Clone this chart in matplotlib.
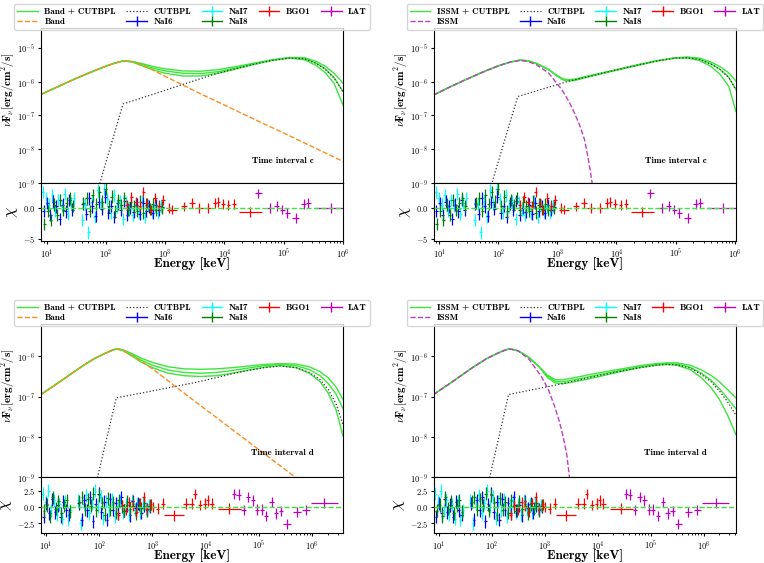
import numpy as np
import matplotlib
matplotlib.use("Agg")
import matplotlib.pyplot as plt
from matplotlib.lines import Line2D
from matplotlib.ticker import LogLocator, NullLocator, FixedLocator, FuncFormatter, NullFormatter

plt.rcParams["mathtext.fontset"] = "cm"
plt.rcParams["font.family"] = ["cmb10", "DejaVu Serif"]

# ---------------- model curves (log10 E [keV], log10 nuFnu) ----------------
# interval c, Band + CUTBPL
c_band_le = [0.9, 1.2, 1.5, 1.8, 2.0, 2.15, 2.3, 2.45, 2.6, 2.8, 3.0, 3.3, 3.6, 4.0, 4.5, 5.0, 5.5, 6.0]
c_band_lf = [-6.38, -6.14, -5.90, -5.68, -5.54, -5.45, -5.38, -5.41, -5.50, -5.66, -5.84, -6.10, -6.36, -6.69, -7.11, -7.52, -7.94, -8.36]
c_bt_le = [0.9, 1.2, 1.5, 1.8, 2.0, 2.15, 2.3, 2.45, 2.6, 2.8, 3.0, 3.3, 3.6, 3.9, 4.2, 4.5, 4.8, 5.1, 5.35, 5.55, 5.7, 5.85, 6.0]
c_bt_lo = [-6.38, -6.14, -5.90, -5.68, -5.54, -5.45, -5.38]
c_bt_hi1 = [-5.40, -5.46, -5.55, -5.62, -5.68, -5.69, -5.64, -5.55, -5.45, -5.35, -5.28, -5.29, -5.40, -5.54, -5.75, -6.04]
c_bt_hi2 = [-5.41, -5.49, -5.60, -5.68, -5.75, -5.76, -5.70, -5.59, -5.47, -5.36, -5.29, -5.31, -5.45, -5.62, -5.88, -6.29]
c_bt_hi3 = [-5.42, -5.52, -5.65, -5.75, -5.83, -5.83, -5.75, -5.62, -5.49, -5.37, -5.30, -5.35, -5.52, -5.73, -6.05, -6.69]
c_cut1_le = [1.85, 2.29, 2.8, 3.3, 3.88, 4.2, 4.5, 4.8, 5.1, 5.35, 5.55, 5.7, 5.85, 6.0]
c_cut1_lf = [-9.3, -6.66, -6.37, -6.08, -5.75, -5.61, -5.48, -5.37, -5.30, -5.32, -5.46, -5.63, -5.89, -6.30]

# interval c, ISSM + CUTBPL
c_issm_le = [0.9, 1.2, 1.5, 1.8, 2.0, 2.2, 2.37, 2.5, 2.65, 2.85, 3.07, 3.2, 3.29, 3.38, 3.46, 3.52, 3.58, 3.62]
c_issm_lf = [-6.40, -6.14, -5.90, -5.67, -5.53, -5.42, -5.37, -5.40, -5.50, -5.74, -6.22, -6.60, -6.93, -7.30, -7.72, -8.25, -8.90, -9.40]
c_it_le = [0.9, 1.2, 1.5, 1.8, 2.0, 2.2, 2.37, 2.5, 2.65, 2.85, 3.0, 3.1, 3.2, 3.3, 3.5, 3.8, 4.1, 4.4, 4.7, 5.0, 5.2, 5.4, 5.6, 5.75, 5.9, 6.02]
c_it_lo = [-6.40, -6.14, -5.90, -5.67, -5.53, -5.42, -5.36, -5.38, -5.46, -5.64]
c_it_hi1 = [-5.82, -5.92, -5.94, -5.92, -5.84, -5.72, -5.60, -5.48, -5.37, -5.29, -5.27, -5.30, -5.42, -5.55, -5.74, -5.98]
c_it_hi2 = [-5.83, -5.93, -5.96, -5.94, -5.85, -5.73, -5.61, -5.49, -5.38, -5.29, -5.28, -5.33, -5.47, -5.63, -5.87, -6.23]
c_it_hi3 = [-5.84, -5.95, -5.98, -5.96, -5.87, -5.74, -5.62, -5.50, -5.38, -5.30, -5.30, -5.37, -5.55, -5.78, -6.14, -6.88]
c_cut2_le = [1.85, 2.33, 2.8, 3.2, 3.5, 3.8, 4.1, 4.4, 4.7, 5.0, 5.2, 5.4, 5.6, 5.75, 5.9, 6.02]
c_cut2_lf = [-9.25, -6.44, -6.19, -5.98, -5.86, -5.73, -5.61, -5.49, -5.38, -5.30, -5.29, -5.34, -5.48, -5.64, -5.88, -6.24]

# interval d, Band + CUTBPL
d_band_le = [0.9, 1.15, 1.4, 1.65, 1.9, 2.1, 2.25, 2.34, 2.45, 2.6, 2.8, 3.0, 3.2, 3.42, 3.8, 4.2, 4.6, 5.0, 5.4, 5.8]
d_band_lf = [-6.95, -6.73, -6.50, -6.27, -6.06, -5.93, -5.85, -5.82, -5.86, -5.96, -6.13, -6.31, -6.51, -6.74, -7.12, -7.52, -7.92, -8.32, -8.72, -9.12]
d_bt_le = [0.9, 1.15, 1.4, 1.65, 1.9, 2.1, 2.25, 2.34, 2.45, 2.6, 2.8, 3.0, 3.3, 3.6, 3.9, 4.2, 4.5, 4.8, 5.1, 5.4, 5.7, 5.95, 6.15, 6.3, 6.45, 6.58]
d_bt_lo = [-6.95, -6.73, -6.50, -6.27, -6.06, -5.93, -5.84, -5.81]
d_bt_hi1 = [-5.84, -5.92, -6.05, -6.15, -6.26, -6.31, -6.32, -6.31, -6.28, -6.24, -6.20, -6.18, -6.19, -6.26, -6.38, -6.53, -6.76, -7.07]
d_bt_hi2 = [-5.85, -5.95, -6.10, -6.22, -6.34, -6.40, -6.42, -6.40, -6.35, -6.29, -6.23, -6.20, -6.23, -6.33, -6.48, -6.67, -6.94, -7.30]
d_bt_hi3 = [-5.86, -5.98, -6.15, -6.28, -6.42, -6.48, -6.50, -6.48, -6.42, -6.34, -6.27, -6.23, -6.28, -6.42, -6.63, -6.91, -7.33, -7.98]
d_cut1_le = [1.88, 2.32, 2.8, 3.3, 3.8, 4.23, 4.5, 4.8, 5.1, 5.4, 5.7, 5.95, 6.15, 6.3, 6.45, 6.58]
d_cut1_lf = [-9.5, -7.03, -6.91, -6.78, -6.65, -6.52, -6.43, -6.35, -6.28, -6.24, -6.28, -6.40, -6.58, -6.82, -7.18, -7.70]

# interval d, ISSM + CUTBPL
d_issm_le = [0.9, 1.15, 1.4, 1.65, 1.9, 2.1, 2.25, 2.35, 2.5, 2.7, 2.94, 3.07, 3.19, 3.28, 3.35, 3.42, 3.47, 3.52]
d_issm_lf = [-6.95, -6.73, -6.50, -6.27, -6.06, -5.93, -5.85, -5.82, -5.86, -6.06, -6.50, -6.82, -7.24, -7.62, -7.99, -8.45, -9.0, -9.5]
d_it_le = [0.9, 1.15, 1.4, 1.65, 1.9, 2.1, 2.25, 2.35, 2.5, 2.7, 2.9, 3.05, 3.2, 3.35, 3.6, 3.9, 4.2, 4.5, 4.8, 5.1, 5.3, 5.5, 5.75, 5.95, 6.15, 6.3, 6.45, 6.61]
d_it_lo = [-6.95, -6.73, -6.50, -6.27, -6.06, -5.93, -5.84, -5.81, -5.86, -6.02, -6.26]
d_it_hi1 = [-6.46, -6.58, -6.58, -6.52, -6.44, -6.37, -6.30, -6.23, -6.18, -6.16, -6.16, -6.22, -6.33, -6.48, -6.63, -6.82, -7.03]
d_it_hi2 = [-6.49, -6.62, -6.63, -6.57, -6.49, -6.41, -6.33, -6.26, -6.20, -6.18, -6.19, -6.27, -6.41, -6.60, -6.80, -7.04, -7.30]
d_it_hi3 = [-6.52, -6.66, -6.68, -6.62, -6.54, -6.45, -6.36, -6.28, -6.22, -6.20, -6.22, -6.33, -6.52, -6.79, -7.07, -7.45, -7.94]
d_cut2_le = [1.88, 2.32, 2.8, 3.26, 3.6, 3.9, 4.2, 4.5, 4.8, 5.1, 5.3, 5.5, 5.75, 5.95, 6.15, 6.3, 6.45, 6.61]
d_cut2_lf = [-9.5, -6.95, -6.82, -6.70, -6.60, -6.51, -6.43, -6.35, -6.28, -6.22, -6.20, -6.21, -6.29, -6.44, -6.64, -6.86, -7.12, -7.46]

# ---------------- residuals ----------------
nai6_e = [9, 10.2, 11.5, 13, 14.7, 16.6, 18.8, 21.2, 24, 27.1,
          41, 46.5, 52.5, 59.5, 67, 76, 86, 97, 110, 124, 140, 159, 180, 203, 230, 260,
          294, 333, 376, 425, 481, 544, 615, 695, 786, 888]
nai7_e = [8.7, 9.8, 11, 12.4, 14, 15.8, 17.9, 20.2, 22.8, 25.8, 28.8,
          40, 45, 51, 57.5, 65, 73.5, 83, 94, 106, 120, 135, 153, 173, 196, 221,
          250, 283, 320, 362, 409, 462, 522, 590, 667, 754, 852]
nai8_e = [9.2, 10.5, 11.8, 13.4, 15.1, 17.1, 19.3, 21.8, 24.6, 27.8,
          42, 47.5, 53.7, 60.7, 68.6, 77.5, 87.6, 99, 112, 126.5, 143, 161.5, 182.5, 206, 233, 263,
          297, 336, 380, 429, 485, 548, 620, 700, 791, 894]

nai6_c = [-0.5, 0.8, -1.2, 1.0, 0.2, -1.8, 0.5, -0.6, 1.2, -0.3, 0.6, -1.0, 1.5, 0.2, -1.4, 0.9, -0.2, 1.8,
          -0.8, 0.3, -1.5, 0.7, -0.4, 1.1, -1.2, 0.0, -0.7, 0.5, -1.0, 0.8, -0.5, 0.2, -0.9, 0.4, -0.3, 0.1]
nai7_c = [2.5, 1.5, 0.5, 2.0, -0.5, 1.2, 0.3, 2.2, -1.0, 0.8, 1.5, -2.0, 0.5, -4.0, 1.0, -1.5, 2.8, 0.6, 3.0,
          1.4, -0.8, 2.0, 0.2, 1.0, -1.8, 0.9, -0.3, -1.2, 0.6, -0.9, 1.1, -1.5, 0.4, -0.6, 0.2, -0.8, 0.3]
nai8_c = [-2.6, -0.5, -2.0, 0.5, -1.2, 1.2, -0.4, 0.8, 1.5, 0.3, 0.8, 1.5, -0.5, 2.0, 0.6, 2.5, 1.0, 3.0,
          0.2, 1.8, -0.6, 1.2, 0.4, 1.6, -0.3, 0.9, 0.2, -0.5, 1.0, -0.8, 0.5, -0.2, 0.6, -0.4, 0.3, -0.1]
nai6_d = [-1.5, 0.5, -1.0, 1.2, -0.8, 0.3, -1.5, 0.8, -0.5, -1.2, 0.6, -2.0, 1.0, -0.5, 1.5, -2.2, 0.4, 2.0,
          -0.8, 0.8, -2.0, 1.2, -0.4, 0.6, -1.0, 1.5, -0.6, 0.3, -1.3, 0.9, -0.2, 0.5, -0.9, 0.2, -0.4, 0.1]
nai7_d = [2.0, 0.8, 2.5, -0.5, 1.0, -1.2, 0.4, -1.8, 0.8, -2.0, -0.5, 1.0, -2.5, 0.5, 1.8, -1.0, 0.6, 2.5, 0.0,
          1.6, -1.8, 0.8, -0.6, 1.2, -1.4, 0.2, 0.9, -0.9, 0.4, -1.2, 1.0, -0.4, 0.3, -0.8, 0.5, -0.3, 0.2]
nai8_d = [-0.6, 0.3, -1.4, 1.5, -0.3, 0.9, -1.0, 0.2, 1.0, -0.7, 0.8, 1.5, -0.4, 1.2, 0.2, 2.0, -0.5, 1.8,
          0.6, -1.2, 1.3, -0.4, 0.7, -0.9, 1.0, 0.1, -0.6, 0.8, -0.3, 0.5, -1.0, 0.4, -0.2, 0.6, -0.5, 0.2]

bgo_c_e = [230, 270, 320, 370, 430, 500, 580, 680, 790, 920,
           1150, 1300, 2100, 2800, 3700, 5300, 6900, 7900, 9500, 11700, 14500, 27500]
bgo_c_chi = [0.5, 1.8, 1.0, 0.3, 2.5, 0.8, -0.4, 1.5, 0.2, 1.2,
             0.0, -0.3, 0.2, 0.7, 0.0, 0.0, 0.7, 0.9, 0.6, 0.4, 0.6, -0.7]
bgo_c_w = [0.03] * 10 + [0.04, 0.08, 0.05, 0.05, 0.07, 0.05, 0.03, 0.03, 0.03, 0.03, 0.04, 0.2]
bgo_d_e = [230, 270, 320, 370, 430, 500, 580, 680, 790, 920,
           1020, 1260, 1560, 2570, 4260, 5450, 6300, 7900, 9700, 10900, 12900, 28000]
bgo_d_chi = [-1.2, 0.3, -0.5, 0.8, 0.2, -0.8, 0.6, 1.5, -0.3, 0.4,
             0.0, -0.25, 0.5, -1.3, 0.5, 0.5, 2.0, 0.26, 0.5, 1.0, 0.5, -0.26]
bgo_d_w = [0.03] * 10 + [0.03, 0.03, 0.04, 0.19, 0.05, 0.05, 0.03, 0.04, 0.03, 0.03, 0.04, 0.22]

lat_c_e = [37000, 59000, 76000, 95000, 115000, 160000, 218000, 260000, 630000]
lat_c_chi = [2.3, -0.1, 0.3, -0.3, -0.8, -1.7, 0.6, 0.7, -0.1]
lat_c_w = [0.06, 0.05, 0.04, 0.04, 0.04, 0.06, 0.04, 0.04, 0.27]
lat_d_e = [34000, 41500, 51500, 62000, 76600, 93000, 113000, 138000, 173000, 210000, 260000, 336000,
           516000, 765000, 1.7e6]
lat_d_chi = [2.0, 1.9, -0.5, 1.5, 1.0, -0.4, -0.4, -1.4, 0.8, -1.0, -0.6, -2.6, -0.8, -0.5, 0.65]
lat_d_w = [0.04] * 11 + [0.07, 0.07, 0.07, 0.25]

GREEN = "#3de53d"
BAND_C = "#ff8c1a"
ISSM_C = "#bf3fbf"


def xerr_dex(e, w):
    e = np.asarray(e, float)
    w = np.asarray(w, float)
    return [e - e * 10 ** (-w), e * 10 ** w - e]


def fmt_pow(v, pos):
    n = int(round(np.log10(v)))
    if n < 0:
        return r"$\mathbf{10}^{-\mathbf{%d}}$" % (-n)
    return r"$\mathbf{10}^{\mathbf{%d}}$" % n


def fmt_lin(v, pos):
    s = ("%g" % abs(v)) if abs(v) >= 1 and float(v).is_integer() else "%.1f" % abs(v)
    if v < 0:
        return r"$-\mathbf{%s}$" % s
    return r"$\mathbf{%s}$" % s


def draw_panel(rect_main, rect_res, model, interval, xlim, ylim, rlim, rticks, chi_x):
    fig = plt.gcf()
    ax = fig.add_axes(rect_main)
    axr = fig.add_axes(rect_res, sharex=ax)

    if interval == "c":
        nai = [nai6_c, nai7_c, nai8_c]
        bgo = (bgo_c_e, bgo_c_chi, bgo_c_w)
        lat = (lat_c_e, lat_c_chi, lat_c_w)
    else:
        nai = [nai6_d, nai7_d, nai8_d]
        bgo = (bgo_d_e, bgo_d_chi, bgo_d_w)
        lat = (lat_d_e, lat_d_chi, lat_d_w)

    tot_le, tot_lo, tot_his, cut_le, cut_lf, comp_le, comp_lf, name, ccol = model
    for hi in tot_his:
        lf = np.array(tot_lo + hi)
        ax.plot(10 ** np.array(tot_le), 10 ** lf, color=GREEN, lw=1.0)
    ax.plot(10 ** np.array(comp_le), 10 ** np.array(comp_lf), color=ccol, lw=1.0, ls="--")
    ax.plot(10 ** np.array(cut_le), 10 ** np.array(cut_lf), color="#333333", lw=0.9, ls=":")

    ax.set_xscale("log")
    ax.set_yscale("log")
    ax.set_xlim(*xlim)
    ax.set_ylim(*ylim)
    ax.yaxis.set_major_locator(LogLocator(base=10, numticks=10))
    ax.yaxis.set_major_formatter(FuncFormatter(fmt_pow))
    ax.yaxis.set_minor_locator(NullLocator())
    ax.tick_params(axis="x", labelbottom=False, bottom=False, which="both")
    ax.tick_params(axis="y", labelsize=6, length=2.5, width=0.8, pad=2)

    # residuals
    dets = [("NaI7", nai7_e, nai[1], "cyan"), ("NaI6", nai6_e, nai[0], "b"),
            ("NaI8", nai8_e, nai[2], "g")]
    for lab, e, chi, col in dets:
        axr.errorbar(e, chi, xerr=xerr_dex(e, [0.025] * len(e)), yerr=1.0, fmt="none",
                     ecolor=col, elinewidth=0.9)
    axr.errorbar(bgo[0], bgo[1], xerr=xerr_dex(bgo[0], bgo[2]), yerr=0.8, fmt="none",
                 ecolor="r", elinewidth=0.9, zorder=4)
    axr.errorbar(lat[0], lat[1], xerr=xerr_dex(lat[0], lat[2]), yerr=0.8, fmt="none",
                 ecolor="m", elinewidth=0.9, zorder=4)
    axr.axhline(0, color=GREEN, ls="--", lw=1.0, zorder=5)
    axr.set_ylim(*rlim)
    axr.yaxis.set_major_locator(FixedLocator(rticks))
    axr.yaxis.set_major_formatter(FuncFormatter(fmt_lin))
    axr.xaxis.set_major_locator(LogLocator(base=10, numticks=10))
    axr.xaxis.set_major_formatter(FuncFormatter(fmt_pow))
    axr.xaxis.set_minor_formatter(NullFormatter())
    axr.tick_params(axis="both", labelsize=6, length=2.5, width=0.8, pad=1.5)
    axr.tick_params(axis="x", which="minor", length=1.5)

    axr.set_xlabel("Energy [keV]", fontsize=9.5, labelpad=-1.5)
    axr.set_ylabel(r"$\chi$", fontsize=12)
    axr.yaxis.set_label_coords(chi_x, 0.5)
    ax.set_ylabel(r"$\nu\mathbf{F}_{\nu}[\mathbf{erg/cm^{2}/s}]$", fontsize=8)
    ax.yaxis.set_label_coords(-0.078, 0.6)

    ax.text(0.8, 0.14 if interval == "c" else 0.16, "Time interval " + interval,
            transform=ax.transAxes, ha="center", va="center", fontsize=6.5)

    # legend (column order: total, comp | CUTBPL, NaI6 | NaI7, NaI8 | BGO1 | LAT)
    def eb(col):
        return Line2D([], [], color=col, lw=1.0, marker="|", markersize=7, markeredgewidth=1.0)
    hh = [Line2D([], [], color=GREEN, lw=1.0),
          Line2D([], [], color=ccol, lw=1.0, ls="--"),
          Line2D([], [], color="#333333", lw=0.9, ls=":"),
          eb("b"), eb("cyan"), eb("g"), eb("r"), eb("m")]
    ll = [name + " + CUTBPL", name, "CUTBPL", "NaI6", "NaI7", "NaI8", "BGO1", "LAT"]
    ax.legend(hh, ll, ncol=5, loc="lower center", bbox_to_anchor=(0.5, 0.99),
              fontsize=6.5, handlelength=2.3, columnspacing=1.15, borderaxespad=0.0,
              borderpad=0.35, labelspacing=0.25, handletextpad=0.7)
    return ax, axr


fig = plt.figure(figsize=(7.64, 5.63), dpi=100)

band_c = (c_bt_le, c_bt_lo, [c_bt_hi1, c_bt_hi2, c_bt_hi3], c_cut1_le, c_cut1_lf,
          c_band_le, c_band_lf, "Band", BAND_C)
issm_c = (c_it_le, c_it_lo, [c_it_hi1, c_it_hi2, c_it_hi3], c_cut2_le, c_cut2_lf,
          c_issm_le, c_issm_lf, "ISSM", ISSM_C)
band_d = (d_bt_le, d_bt_lo, [d_bt_hi1, d_bt_hi2, d_bt_hi3], d_cut1_le, d_cut1_lf,
          d_band_le, d_band_lf, "Band", BAND_C)
issm_d = (d_it_le, d_it_lo, [d_it_hi1, d_it_hi2, d_it_hi3], d_cut2_le, d_cut2_lf,
          d_issm_le, d_issm_lf, "ISSM", ISSM_C)

W, H = 764.0, 563.0
top_main = (1 - 183 / H, 155 / H)
top_res = (1 - 241 / H, 58 / H)
bot_main = (1 - 477 / H, 153 / H)
bot_res = (1 - 533 / H, 56 / H)
lx, rx, wx = 41 / W, 434 / W, 302 / W

draw_panel([lx, top_main[0], wx, top_main[1]], [lx, top_res[0], wx, top_res[1]],
           band_c, "c", (8.07, 1e6), (1e-9, 3.9e-5), (-5.4, 4.0), [-5, 0, 5], -0.068)
draw_panel([rx, top_main[0], wx, top_main[1]], [rx, top_res[0], wx, top_res[1]],
           issm_c, "c", (8.2, 1.05e6), (1e-9, 3.9e-5), (-5.4, 4.0), [-5, 0, 5], -0.068)
draw_panel([lx, bot_main[0], wx, bot_main[1]], [lx, bot_res[0], wx, bot_res[1]],
           band_d, "d", (8.05, 3.8e6), (1e-9, 6.4e-6), (-4.0, 4.6), [-2.5, 0.0, 2.5], -0.09)
draw_panel([rx, bot_main[0], wx, bot_main[1]], [rx, bot_res[0], wx, bot_res[1]],
           issm_d, "d", (8.2, 4.1e6), (1e-9, 6.4e-6), (-4.0, 4.6), [-2.5, 0.0, 2.5], -0.09)

fig.savefig("out.png", dpi=100)
